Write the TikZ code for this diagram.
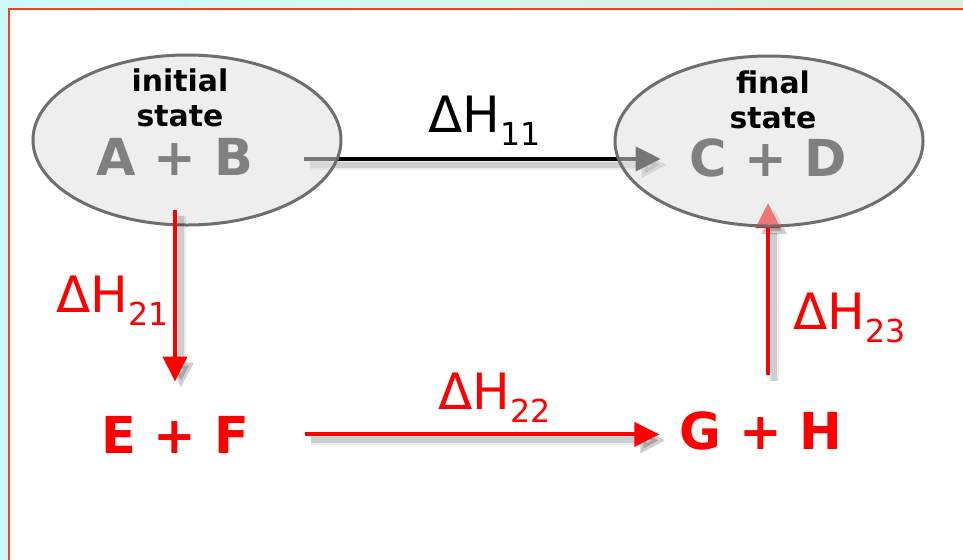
\documentclass[tikz,border=0pt]{standalone}
\usepackage{fontspec}
\setmainfont{DejaVu Sans}
\usepackage{xcolor}
\usetikzlibrary{arrows.meta,positioning,shapes.geometric}

\definecolor{framered}{RGB}{245,65,30}
\definecolor{skyleft}{RGB}{204,250,251}
\definecolor{skyright}{RGB}{222,238,222}
\definecolor{specgray}{RGB}{128,128,128}

\pgfdeclarelayer{back}
\pgfdeclarelayer{under}
\pgfsetlayers{back,under,main}

% enthalpy change with a lowered index
\newcommand{\dH}[1]{ΔH\raisebox{-0.27em}{\fontsize{18}{18}\selectfont #1}}

\begin{document}
\begin{tikzpicture}[x=0.2mm, y=-0.2mm,
    statebox/.style={ellipse, draw=black!57, line width=0.6mm, fill=black!12,
      fill opacity=0.53, minimum width=61.6mm, minimum height=34mm},
    tag/.style={font=\fontsize{17}{20}\selectfont\bfseries, align=center, inner sep=0pt},
    spec/.style={font=\fontsize{29}{29}\selectfont\bfseries, inner sep=0pt, anchor=base},
    dhlab/.style={font=\fontsize{28.5}{28.5}\selectfont, inner sep=0pt, anchor=base west},
    arr/.style={-{Triangle[length=5mm,width=4.8mm]}, line width=0.8mm},
    arrshade/.style={
      preaction={draw=black, opacity=0.08, line width=2mm,
        transform canvas={shift={(6,6)}}},
      preaction={draw=black, opacity=0.12, line width=1.2mm,
        transform canvas={shift={(6,6)}}}}]
  \useasboundingbox (0,0) rectangle (963,559);
  \begin{pgfonlayer}{back}
    \shade[left color=skyleft, right color=skyright] (0,0) rectangle (963,559);
    \fill[white] (10,10) rectangle (980,580);
    \draw[framered, line width=0.55mm] (9,9) rectangle (980,580);
  \end{pgfonlayer}

  % states
  \node[statebox] (init) at (187,140) {};
  \node[statebox] (fin) at (769,141) {};
  \node[tag] (initlbl) at (180,98) {initial\\state};
  \node[tag] (finlbl) at (773,100) {final\\state};
  \node[spec, text=specgray] (ab) at (175,175) {A + B};
  \node[spec, text=specgray] (cd) at (768,176) {C + D};
  \node[spec, text=red] (ef) at (175,453) {E + F};
  \node[spec, text=red] (gh) at (761,449) {G + H};

  % these two run under the states
  \begin{pgfonlayer}{under}
    \draw[arr, arrshade, shorten <=10mm, shorten >=5.6mm]
      ([yshift=-0.5mm]ab.east) -- ([yshift=-0.5mm]ab.east -| cd.west);
    \draw[arr, arrshade, red, shorten <=7.2mm, shorten >=5.2mm]
      (cd.south |- gh.north) -- (cd.south);
  \end{pgfonlayer}
  \draw[arr, arrshade, red, shorten <=7mm, shorten >=6.8mm]
    (ab.south) -- (ab.south |- ef.north);
  \draw[arr, arrshade, red, shorten <=11.2mm, shorten >=4mm]
    (ef.east) -- (ef.east -| gh.west);

  \node[dhlab] (dh11) at (428,132) {\dH{11}};
  \node[dhlab, text=red] (dh21) at (56,312) {\dH{21}};
  \node[dhlab, text=red] (dh22) at (438,409) {\dH{22}};
  \node[dhlab, text=red] (dh23) at (793,329) {\dH{23}};
\end{tikzpicture}
\end{document}
